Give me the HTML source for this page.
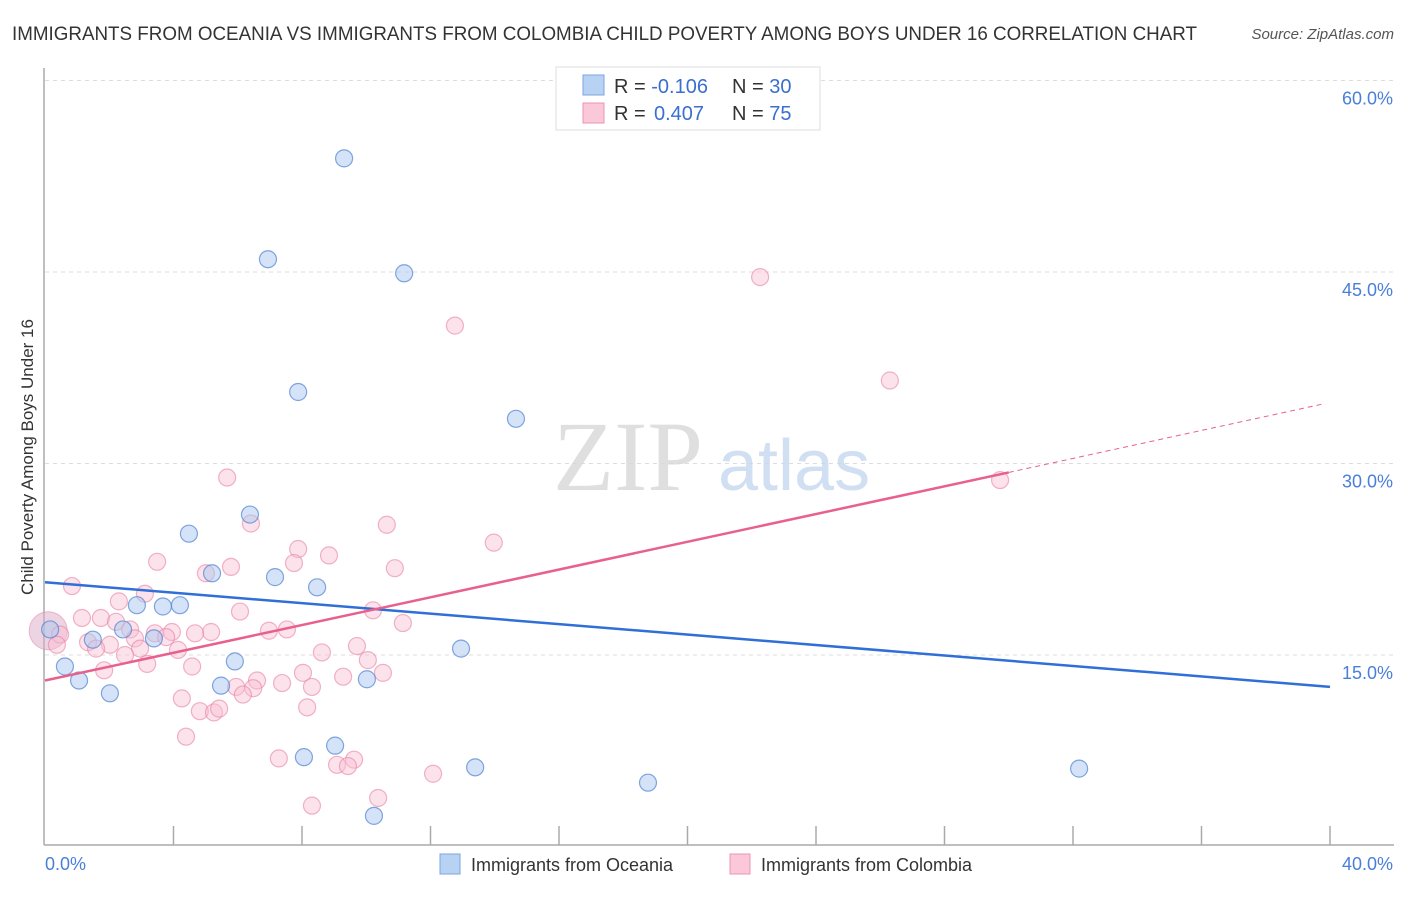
<!DOCTYPE html>
<html><head><meta charset="utf-8">
<style>
html,body{margin:0;padding:0;background:#fff;}
body{width:1406px;height:892px;overflow:hidden;font-family:"Liberation Sans",sans-serif;}
</style></head>
<body>
<svg id="chart" width="1406" height="892" xmlns="http://www.w3.org/2000/svg" font-family="Liberation Sans, sans-serif">
<text x="12" y="40" font-size="19" fill="#333" textLength="1185" lengthAdjust="spacingAndGlyphs">IMMIGRANTS FROM OCEANIA VS IMMIGRANTS FROM COLOMBIA CHILD POVERTY AMONG BOYS UNDER 16 CORRELATION CHART</text>
<text x="1394" y="39" font-size="15" fill="#555" font-style="italic" text-anchor="end">Source: ZipAtlas.com</text>
<text transform="translate(33,457) rotate(-90)" font-size="17" fill="#333" text-anchor="middle">Child Poverty Among Boys Under 16</text>
<g id="grid"></g>
<g id="axes"></g>
<text x="553" y="490" font-size="100" fill="#d8d8d8" style="font-family:'Liberation Serif',serif" opacity="0.8">ZIP</text>
<text x="718" y="490" font-size="72" fill="#c6d8f0" opacity="0.8">atlas</text>
<g id="pts"></g>
<g id="lines"></g>
<g>
<rect x="556" y="67" width="264" height="63" fill="#fff" stroke="#ddd"/>
<rect x="583" y="75" width="21" height="20" fill="#b8d2f4" stroke="#7aa5e0"/>
<rect x="583" y="103" width="21" height="20" fill="#fac8d8" stroke="#ee93b0"/>
<text x="614" y="93" font-size="20" fill="#333">R = <tspan fill="#3a6fd0">-0.106</tspan><tspan x="732">N = </tspan><tspan fill="#3a6fd0">30</tspan></text>
<text x="614" y="120" font-size="20" fill="#333">R = <tspan fill="#3a6fd0" x="654">0.407</tspan><tspan x="732">N = </tspan><tspan fill="#3a6fd0">75</tspan></text>
</g>
<g>
<rect x="440" y="854" width="20" height="20" fill="#b8d2f4" stroke="#7aa5e0"/>
<text x="471" y="871" font-size="18" fill="#333">Immigrants from Oceania</text>
<rect x="730" y="854" width="20" height="20" fill="#fac8d8" stroke="#ee93b0"/>
<text x="761" y="871" font-size="18" fill="#333">Immigrants from Colombia</text>
</g>
</svg>
<script>
const yTicks=[15,30,45,60];
const yTickLabels=["15.0%","30.0%","45.0%","60.0%"];
const xTickLabels=["0.0%","40.0%"];
const blueX=[9.31,6.94,11.18,7.88,14.66,6.38,4.48,5.20,7.16,8.47,2.86,3.67,4.20,2.43,3.39,1.49,0.16,0.62,1.06,2.02,5.91,5.48,12.95,10.02,9.03,8.06,13.39,18.77,10.24,32.19];
const blueY=[53.9,46.0,44.9,35.6,33.5,26.0,24.5,21.4,21.1,20.3,18.9,18.8,18.9,17.0,16.3,16.2,17.0,14.1,13.0,12.0,14.5,12.6,15.5,13.1,7.9,7.0,6.2,5.0,2.4,6.1];
const pinkX=[22.26,12.76,26.30,29.73,5.67,6.41,10.64,13.97,7.88,8.84,3.49,7.75,10.89,5.79,5.01,0.84,3.11,2.30,10.21,6.07,1.15,1.74,2.21,11.14,2.65,3.95,5.17,6.97,7.53,3.42,4.67,0.47,2.80,3.77,1.34,0.37,2.02,1.59,2.96,4.14,9.71,2.49,8.62,10.05,3.18,4.58,1.84,8.03,10.52,9.28,6.60,7.38,8.31,5.95,6.48,6.16,4.26,8.16,4.82,5.26,5.42,4.39,7.28,9.62,9.09,9.43,12.08,10.37,8.31];
const pinkY=[44.6,40.8,36.5,28.7,28.9,25.3,25.2,23.8,23.3,22.8,22.3,22.2,21.8,21.9,21.4,20.4,19.8,19.2,18.5,18.4,17.9,17.9,17.6,17.5,17.0,16.8,16.8,16.9,17.0,16.7,16.7,16.6,16.3,16.4,16.0,15.8,15.8,15.5,15.5,15.4,15.7,15.0,15.2,14.6,14.3,14.1,13.8,13.6,13.6,13.3,13.0,12.8,12.5,12.5,12.4,11.9,11.6,10.9,10.6,10.5,10.8,8.6,6.9,6.8,6.4,6.3,5.7,3.8,3.2];
const blueTrend=[[0,20.7],[40,12.5]];
const pinkTrend=[[0,13.0],[30,29.3]];
const pinkDash=[[30,29.3],[39.85,34.7]];

const NS="http://www.w3.org/2000/svg";
const X=v=>45+v/40*1285;
const Y=v=>846.5-v*12.767;
function mk(tag,attrs,parent){const e=document.createElementNS(NS,tag);for(const k in attrs)e.setAttribute(k,attrs[k]);parent.appendChild(e);return e;}
const grid=document.getElementById('grid'),axes=document.getElementById('axes'),pts=document.getElementById('pts'),lines=document.getElementById('lines');
yTicks.forEach((t,i)=>{
  const l=mk('line',{x1:45,x2:1394,y1:Y(t),y2:Y(t),stroke:'#ddd','stroke-dasharray':'4,4'},grid);
  
  
  const tx=mk('text',{x:1393,y:Y(t)+24,'font-size':18,fill:'#4a7fd8','text-anchor':'end'},grid);
  tx.textContent=yTickLabels[i];
  
  
});
mk('line',{x1:44,x2:44,y1:68,y2:845,stroke:'#aaa','stroke-width':1.5},axes);
mk('line',{x1:44,x2:1394,y1:845,y2:845,stroke:'#aaa','stroke-width':1.5},axes);
for(let i=1;i<=10;i++){
  const t=mk('line',{x1:X(i*4),x2:X(i*4),y1:826,y2:845,stroke:'#aaa','stroke-width':1.5},axes);
  
  
}
const xl0=mk('text',{x:45,y:870,'font-size':18,fill:'#4a7fd8'},axes);xl0.textContent=xTickLabels[0];


const xl1=mk('text',{x:1393,y:870,'font-size':18,fill:'#4a7fd8','text-anchor':'end'},axes);xl1.textContent=xTickLabels[1];



const big=mk('circle',{cx:X(0.1),cy:Y(16.9),r:19,fill:'rgba(220,170,200,0.5)',stroke:'rgba(230,140,175,0.6)'},pts);


pinkX.forEach((v,i)=>{
  const c=mk('circle',{cx:X(v),cy:Y(pinkY[i]),r:8.5,fill:'rgba(248,190,210,0.45)',stroke:'rgba(232,130,165,0.6)','stroke-width':1.2},pts);
  
  
});
blueX.forEach((v,i)=>{
  const c=mk('circle',{cx:X(v),cy:Y(blueY[i]),r:8.5,fill:'rgba(170,200,240,0.5)',stroke:'rgba(80,130,210,0.7)','stroke-width':1.2},pts);
  
  
});
const bl=mk('line',{x1:X(blueTrend[0][0]),y1:Y(blueTrend[0][1]),x2:X(blueTrend[1][0]),y2:Y(blueTrend[1][1]),stroke:'#2f6fd6','stroke-width':2.5},lines);


const pl=mk('line',{x1:X(pinkTrend[0][0]),y1:Y(pinkTrend[0][1]),x2:X(pinkTrend[1][0]),y2:Y(pinkTrend[1][1]),stroke:'#e8608e','stroke-width':2.5},lines);


const pd=mk('line',{x1:X(pinkDash[0][0]),y1:Y(pinkDash[0][1]),x2:X(pinkDash[1][0]),y2:Y(pinkDash[1][1]),stroke:'#e8608e','stroke-width':1,'stroke-dasharray':'5,4'},lines);


</script>
</body></html>
